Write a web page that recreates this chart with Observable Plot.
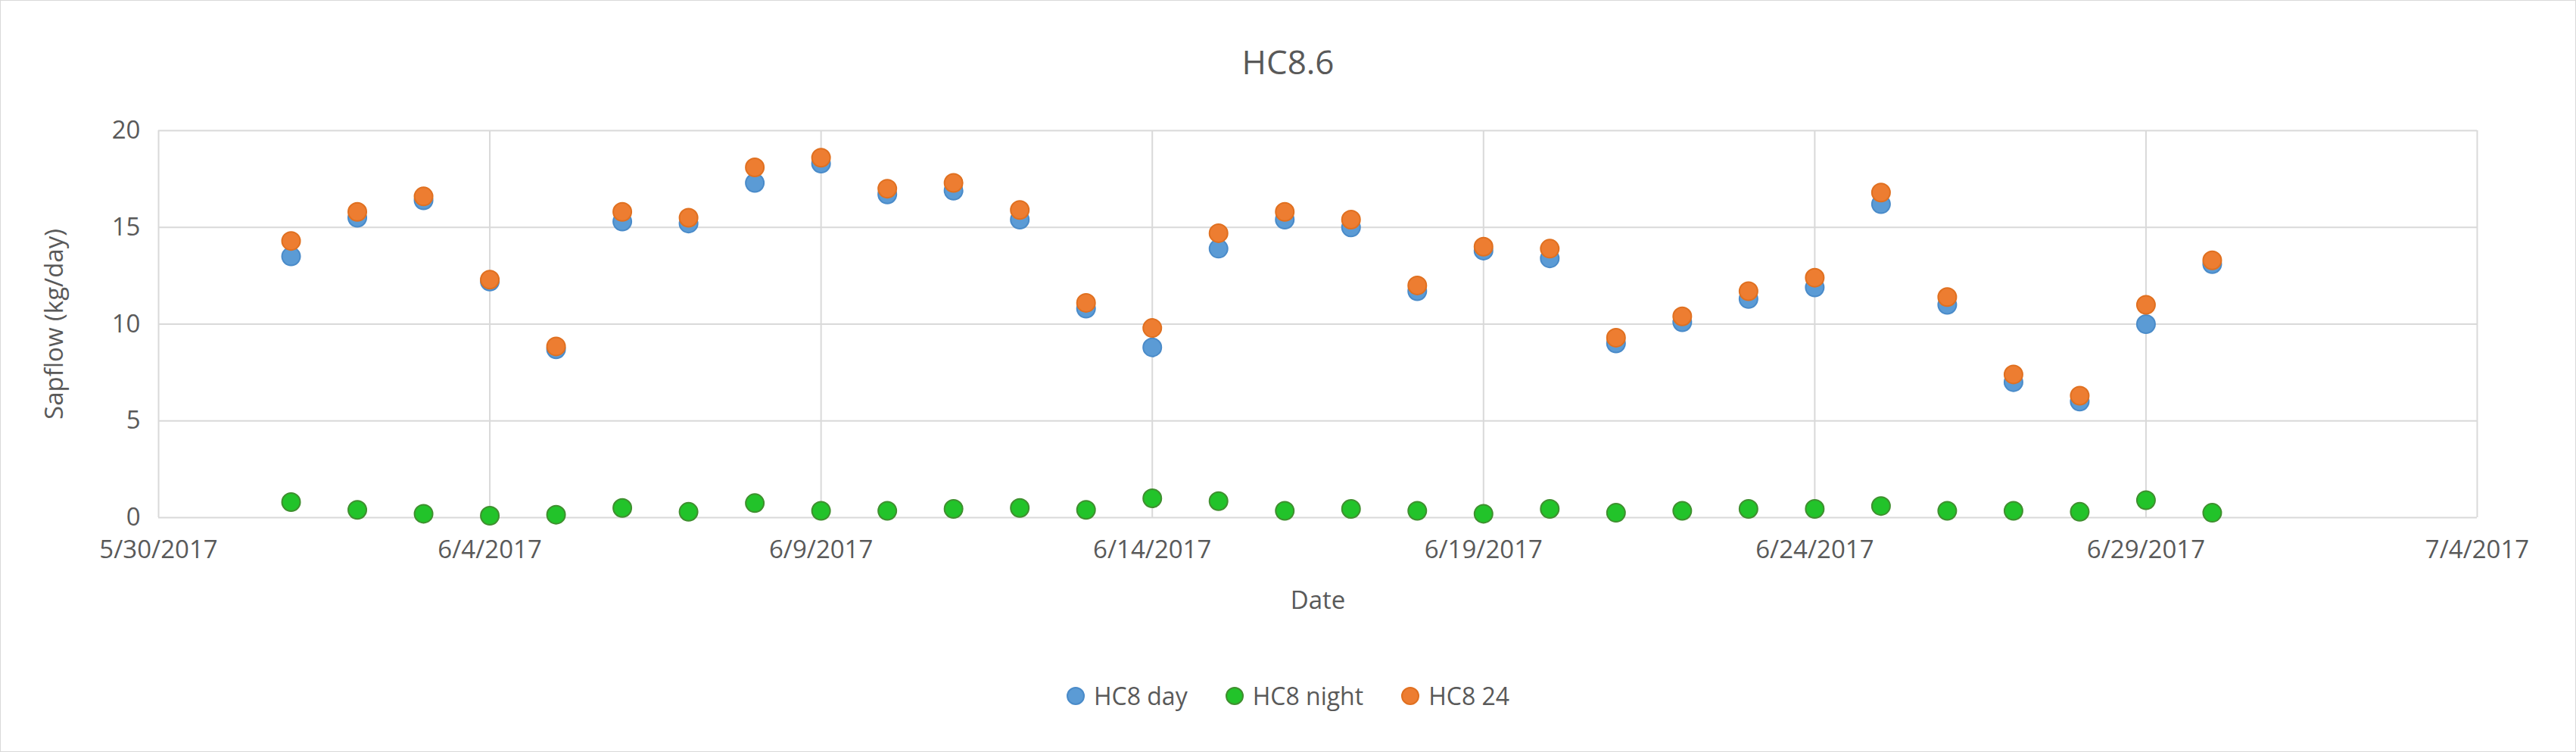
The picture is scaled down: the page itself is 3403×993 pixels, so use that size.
<!DOCTYPE html>
<html>
<head>
<meta charset="utf-8">
<script src="https://cdn.jsdelivr.net/npm/d3@7"></script>
<script src="https://cdn.jsdelivr.net/npm/@observablehq/plot@0.6"></script>
<style>
  body { margin: 0; font-family: "Open Sans", "Noto Sans", sans-serif; background: #fff; }
  #chart { width: 3401px; height: 991px; border: 1px solid #d9d9d9; position: relative; overflow: hidden; }
  #title { height: 140px; line-height: 160px; text-align: center; font-size: 44px; color: #595959; }
  #legend { display: flex; justify-content: center; gap: 50px; font-size: 32px; color: #595959; margin-top: 56px; }
  .item { display: flex; align-items: center; gap: 12px; }
  .sw { width: 24px; height: 24px; border-radius: 50%; display: inline-block; box-sizing: border-box; }
</style>
</head>
<body>
<div id="chart">
  <div id="title">HC8.6</div>
  <div id="plot"></div>
  <div id="legend"></div>
</div>
<script>
// dates 6/1 .. 6/30/2017
var days = d3.range(1, 31).map(function(d) { return new Date(Date.UTC(2017, 5, d)); });

var dayFlow = [13.5, 15.5, 16.4, 12.2, 8.7, 15.3, 15.2, 17.3, 18.3, 16.7,
               16.9, 15.4, 10.8, 8.8, 13.9, 15.4, 15.0, 11.7, 13.8, 13.4,
               9.0, 10.1, 11.3, 11.9, 16.2, 11.0, 7.0, 6.0, 10.0, 13.1];
var nightFlow = [0.8, 0.4, 0.2, 0.1, 0.15, 0.5, 0.3, 0.75, 0.35, 0.35,
                 0.45, 0.5, 0.4, 1.0, 0.85, 0.35, 0.45, 0.35, 0.2, 0.45,
                 0.25, 0.35, 0.45, 0.45, 0.6, 0.35, 0.35, 0.3, 0.9, 0.25];
var fullFlow = [14.3, 15.8, 16.6, 12.3, 8.85, 15.8, 15.5, 18.1, 18.6, 17.0,
                17.3, 15.9, 11.1, 9.8, 14.7, 15.8, 15.4, 12.0, 14.0, 13.9,
                9.3, 10.4, 11.7, 12.4, 16.8, 11.4, 7.4, 6.3, 11.0, 13.3];

var series = [
  { name: "HC8 day", values: dayFlow, fill: "#5b9bd5", stroke: "#4a8bc9" },
  { name: "HC8 night", values: nightFlow, fill: "#22c32a", stroke: "#3f8f2f" },
  { name: "HC8 24", values: fullFlow, fill: "#ed7d31", stroke: "#e07020" }
];

// 5/30, 6/4, ... 7/4
var xTicks = d3.range(0, 8).map(function(i) { return new Date(Date.UTC(2017, 4, 30 + i * 5)); });
var yTicks = [0, 5, 10, 15, 20];

var marks = [
  Plot.ruleY(yTicks, { stroke: "#d9d9d9", strokeWidth: 2 }),
  Plot.ruleX(xTicks, { stroke: "#d9d9d9", strokeWidth: 2 })
];
series.forEach(function(s) {
  var rows = days.map(function(d, i) { return { date: d, v: s.values[i] }; });
  marks.push(Plot.dot(rows, { x: "date", y: "v", r: 12, fill: s.fill, stroke: s.stroke, strokeWidth: 2 }));
});

var plot = Plot.plot({
  width: 3401,
  height: 700,
  marginTop: 31,
  marginBottom: 158,
  marginLeft: 208,
  marginRight: 130,
  style: { fontFamily: "Open Sans, Noto Sans, sans-serif", fontSize: "33px", color: "#595959", background: "#fff" },
  x: {
    type: "utc",
    domain: [xTicks[0], xTicks[7]],
    ticks: xTicks,
    tickFormat: function(d) { return (d.getUTCMonth() + 1) + "/" + d.getUTCDate() + "/" + d.getUTCFullYear(); },
    tickSize: 0,
    tickPadding: 30,
    label: "Date",
    labelAnchor: "center",
    labelArrow: "none",
    labelOffset: 120
  },
  y: {
    domain: [0, 20],
    ticks: yTicks,
    tickSize: 0,
    tickPadding: 24,
    label: "Sapflow (kg/day)",
    labelAnchor: "center",
    labelArrow: "none",
    labelOffset: 150
  },
  marks: marks
});
document.getElementById("plot").appendChild(plot);

var leg = document.getElementById("legend");
series.forEach(function(s) {
  var it = document.createElement("div");
  it.className = "item";
  it.innerHTML = '<span class="sw" style="background:' + s.fill + ';border:2px solid ' + s.stroke + '"></span>' + s.name;
  leg.appendChild(it);
});
</script>
</body>
</html>
